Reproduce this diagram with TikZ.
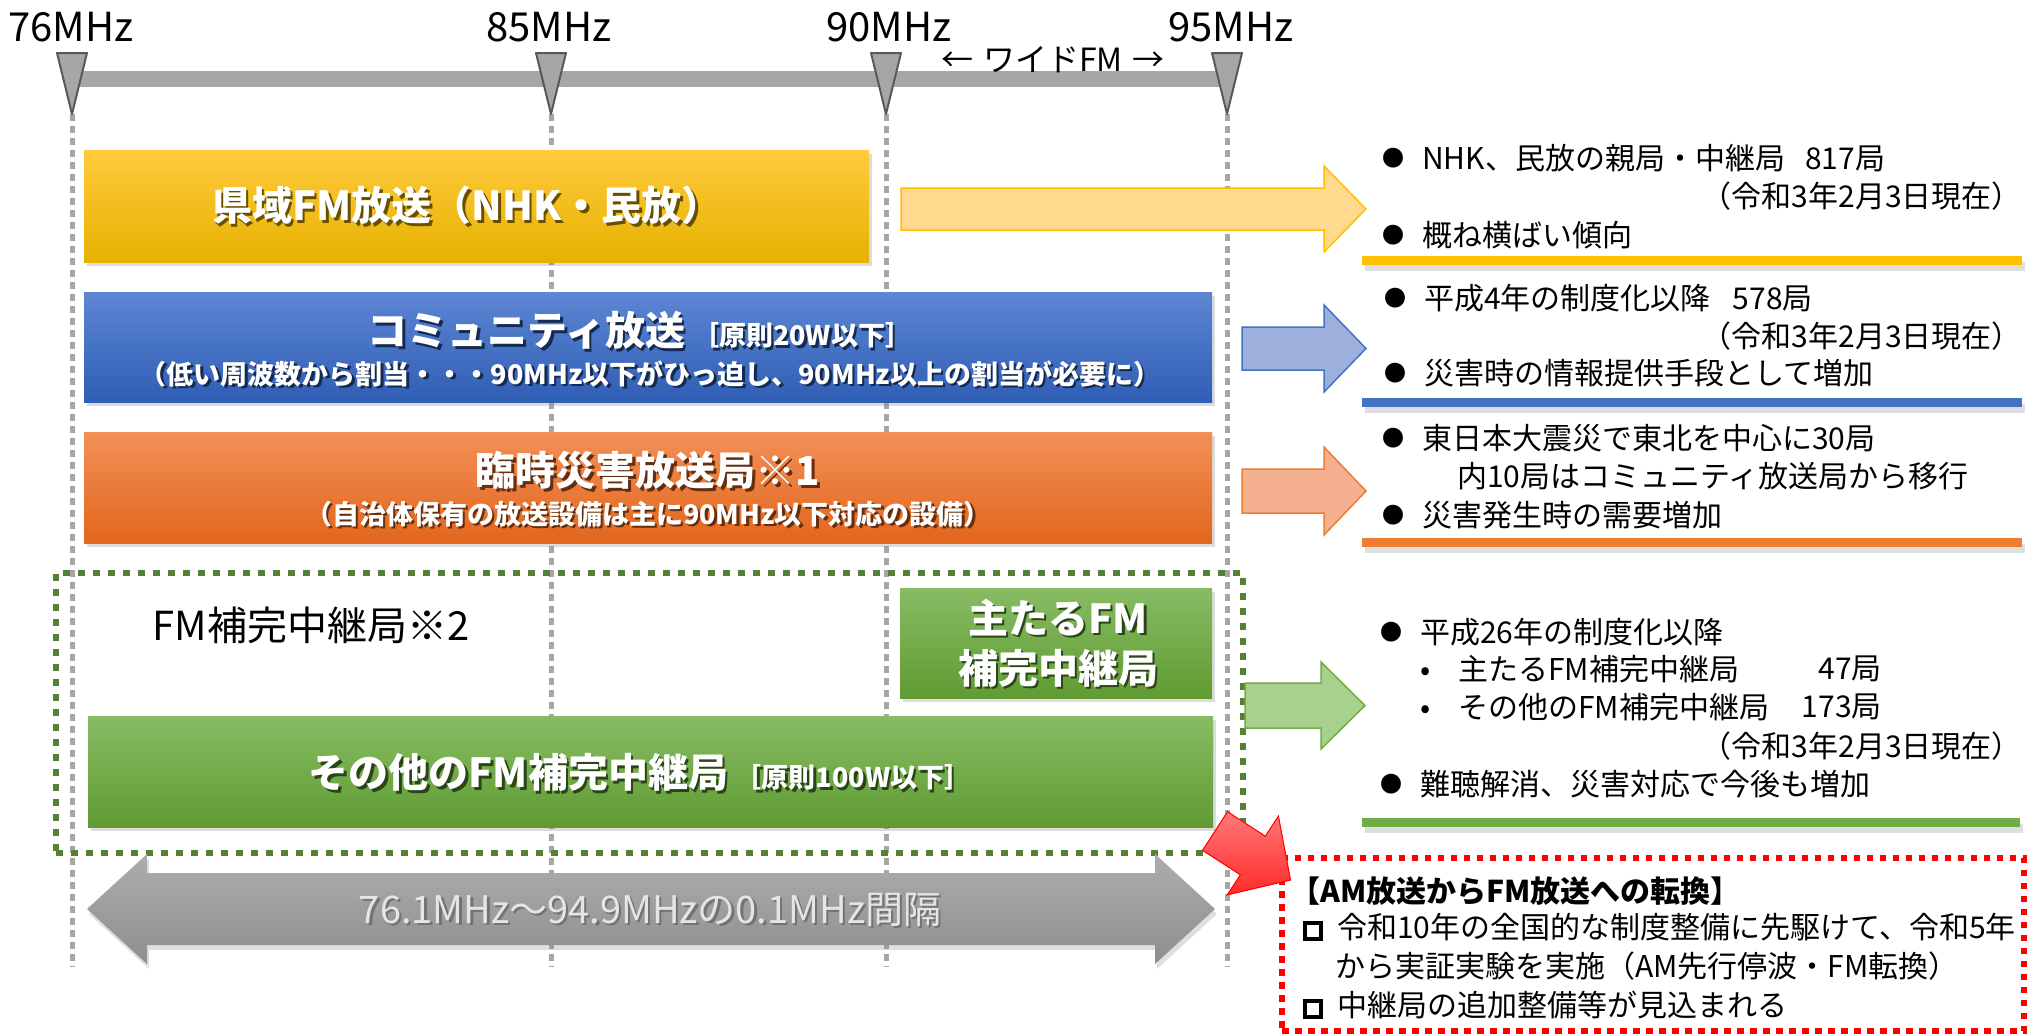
\documentclass[tikz,border=0pt]{standalone}
\usepackage{fontspec}
\setmainfont{Noto Sans CJK JP}
\usetikzlibrary{shadows}
\definecolor{ylT}{HTML}{FFCB3D}\definecolor{ylB}{HTML}{E6B100}
\definecolor{blT}{HTML}{5D86D3}\definecolor{blB}{HTML}{2F5EB5}
\definecolor{orT}{HTML}{F29058}\definecolor{orB}{HTML}{E2661C}
\definecolor{grT}{HTML}{88BC64}\definecolor{grB}{HTML}{5F9B32}
\definecolor{gaT}{HTML}{ADADAD}\definecolor{gaB}{HTML}{8E8E8E}
\definecolor{yaF}{HTML}{FFD98D}\definecolor{yaE}{HTML}{FFC000}
\definecolor{baF}{HTML}{9DB0DD}\definecolor{baE}{HTML}{4472C4}
\definecolor{oaF}{HTML}{F5B08F}\definecolor{oaE}{HTML}{ED7D31}
\definecolor{gaF}{HTML}{A9D18E}\definecolor{gaE}{HTML}{70AD47}
\definecolor{gdot}{HTML}{548235}
\definecolor{lineg}{HTML}{A6A6A6}
\definecolor{redL}{HTML}{FF7878}\definecolor{redD}{HTML}{FF2A2A}
\newcommand\fsz[1]{\fontsize{#1}{#1}\selectfont}
\newcommand\shtxt[2]{\makebox[0pt][l]{\kern2.5pt\raisebox{-2.5pt}{\textcolor{#1}{#2}}}#2}
\newcommand\bul{\makebox[40pt][l]{\raisebox{3pt}{\fsz{22}●}}}
\newcommand\sbul{\makebox[38pt][l]{•}}
\newcommand\sqb{\raisebox{1pt}{\setlength\fboxrule{4pt}\setlength\fboxsep{0pt}\fbox{\rule{0pt}{12pt}\hspace{12pt}}}}
\begin{document}
\begin{tikzpicture}[x=1pt,y=-1pt,
  boxsh/.style={drop shadow={opacity=0.28,shadow xshift=3pt,shadow yshift=-4pt}},
  colbox/.style={rectangle,inner sep=0pt,boxsh},
  lbl/.style={inner sep=0pt,font=\fsz{40}},
  wt/.style={inner sep=0pt,text=white,font=\bfseries\fsz{40}},
  wsub/.style={inner sep=0pt,text=white,font=\bfseries\fsz{27}},
  rt/.style={inner sep=0pt,anchor=west,font=\fsz{30}},
  rte/.style={inner sep=0pt,anchor=east,font=\fsz{30}},
  vdash/.style={draw=lineg,line width=5pt,dash pattern=on 6.5pt off 5.5pt},
  tri/.style={fill=lineg,draw=black!65,line width=2pt,line join=round},
  barr/.style={fill=lineg},
  rarr/.style={line width=1.5pt,line join=miter},
  uline/.style={drop shadow={opacity=0.25,shadow xshift=3pt,shadow yshift=-6pt}},
]
\useasboundingbox (0,0) rectangle (2033,1034);

% ---- frequency scale ----
\foreach \n/\x in {76/72,85/551,90/886,95/1227}{
  \coordinate (t\n) at (\x,114);
  \coordinate (b\n) at (\x,967);
  \draw[vdash] (t\n) -- (b\n);
}
\fill[barr] (72,71) rectangle (1227,87);
\foreach \n/\x in {76/72,85/551,90/886,95/1227}{
  \filldraw[tri] (\x-15,53) -- (\x+15,53) -- (t\n) -- cycle;
}
\node[lbl] (l76) at (71,27) {76MHz};
\node[lbl] (l85) at (549,27) {85MHz};
\node[lbl] (l90) at (889,27) {90MHz};
\node[lbl] (l95) at (1231,27) {95MHz};
\node[inner sep=0pt,font=\fsz{32}] (wide) at (1053,60) {←\hspace{10pt}ワイドFM\hspace{10pt}→};

% ---- bands ----
\node[colbox,top color=ylT,bottom color=ylB,minimum width=785pt,minimum height=112pt] (ken) at (476.5,206) {};
\node[wt] (kent) at (467,207) {\shtxt{ylB!45!black}{県域FM放送（NHK・民放）}};

\node[colbox,top color=blT,bottom color=blB,minimum width=1128pt,minimum height=110pt] (com) at (648,347) {};
\node[wt] (comt) at (640,332) {\shtxt{blB!45!black}{コミュニティ放送\,{\fsz{27}［原則20W以下］}}};
\node[wsub] (comsub) at (650,375) {\shtxt{blB!45!black}{（低い周波数から割当・・・90MHz以下がひっ迫し、90MHz以上の割当が必要に）}};

\node[colbox,top color=orT,bottom color=orB,minimum width=1128pt,minimum height=111pt] (rin) at (648,487.5) {};
\node[wt] (rint) at (648,472) {\shtxt{orB!45!black}{臨時災害放送局※1}};
\node[wsub] (rinsub) at (648,515) {\shtxt{orB!45!black}{（自治体保有の放送設備は主に90MHz以下対応の設備）}};

\node[draw=gdot,line width=6.5pt,dash pattern=on 7pt off 8pt,inner sep=0pt,minimum width=1187pt,minimum height=280pt] (hokan) at (649.5,713) {};
\node[lbl] (hokant) at (311,625) {FM補完中継局※2};

\node[colbox,top color=grT,bottom color=grB,minimum width=312pt,minimum height=110pt] (omo) at (1056,643) {};
\node[wt,align=center] (omot) at (1058,644) {\shtxt{grB!45!black}{主たるFM}\\[10pt]\shtxt{grB!45!black}{補完中継局}};

\node[colbox,top color=grT,bottom color=grB,minimum width=1125pt,minimum height=111pt] (son) at (650.5,771.5) {};
\node[wt] (sont) at (640,774) {\shtxt{grB!45!black}{その他のFM補完中継局\,{\fsz{27}［原則100W以下］}}};

% ---- range double arrow ----
\path[top color=gaT,bottom color=gaB,drop shadow={opacity=0.25,shadow xshift=2pt,shadow yshift=-5pt}]
  (87,909) -- (147,854) -- (147,873) -- (1155,873) -- (1155,854) -- (1215,909)
  -- (1155,964) -- (1155,945) -- (147,945) -- (147,964) -- cycle;
\node[inner sep=0pt,font=\fsz{38},text=black!10] (range) at (650,911) {\shtxt{black!55}{76.1MHz～94.9MHzの0.1MHz間隔}};

% ---- right arrows ----
\filldraw[rarr,fill=yaF,draw=yaE] (901,188) -- (1324,188) -- (1324,166) -- (1366,209) -- (1324,252) -- (1324,230) -- (901,230) -- cycle;
\filldraw[rarr,fill=baF,draw=baE] (1242,327) -- (1324,327) -- (1324,305) -- (1366,348.5) -- (1324,392) -- (1324,370) -- (1242,370) -- cycle;
\filldraw[rarr,fill=oaF,draw=oaE] (1242,469) -- (1324,469) -- (1324,447) -- (1366,491) -- (1324,535) -- (1324,513) -- (1242,513) -- cycle;
\filldraw[rarr,fill=gaF,draw=gaE] (1245,683) -- (1321,683) -- (1321,662) -- (1365,705.5) -- (1321,749) -- (1321,728) -- (1245,728) -- cycle;

% ---- right texts ----
\node[rt] (r1a) at (1382,158) {\bul NHK、民放の親局・中継局\hspace{20pt}817局};
\node[rte] (r1b) at (2022,196) {（令和3年2月3日現在）};
\node[rt] (r1c) at (1382,235) {\bul 概ね横ばい傾向};
\fill[yaE,uline] (1362,256) rectangle (2022,265);

\node[rt] (r2a) at (1384,298) {\bul 平成4年の制度化以降\hspace{22pt}578局};
\node[rte] (r2b) at (2022,336) {（令和3年2月3日現在）};
\node[rt] (r2c) at (1384,373) {\bul 災害時の情報提供手段として増加};
\fill[baE,uline] (1362,398) rectangle (2022,407);

\node[rt] (r3a) at (1382,438) {\bul 東日本大震災で東北を中心に30局};
\node[rt] (r3b) at (1457,476) {内10局はコミュニティ放送局から移行};
\node[rt] (r3c) at (1382,515) {\bul 災害発生時の需要増加};
\fill[oaE,uline] (1362,538) rectangle (2022,547);

\node[rt] (r4a) at (1380,632) {\bul 平成26年の制度化以降};
\node[rt] (r4b) at (1420,669) {\sbul 主たるFM補完中継局};
\node[rte] (r4bn) at (1882,669) {47局};
\node[rt] (r4c) at (1420,707) {\sbul その他のFM補完中継局};
\node[rte] (r4cn) at (1882,707) {173局};
\node[rte] (r4d) at (2022,746) {（令和3年2月3日現在）};
\node[rt] (r4e) at (1380,784) {\bul 難聴解消、災害対応で今後も増加};
\fill[gaE,uline] (1362,818) rectangle (2020,827);

% ---- AM -> FM ----
\node[draw=red,line width=5.5pt,dash pattern=on 6.5pt off 6.5pt,inner sep=0pt,minimum width=742pt,minimum height=173pt] (amfm) at (1653,944.5) {};
\filldraw[top color=redL,bottom color=redD,draw=red,line width=1pt,line join=miter]
  (1227.5,811.7) -- (1265.3,836.2) -- (1278.4,816.1) -- (1290.5,880) -- (1227.2,894.9) -- (1240.3,874.8) -- (1202.5,850.3) -- cycle;
\node[rt,font=\bfseries\fsz{30}] (amt) at (1290,891) {【AM放送からFM放送への転換】};
\node[rt] (am1) at (1303,927) {\sqb\hspace{14pt}令和10年の全国的な制度整備に先駆けて、令和5年};
\node[rt] (am2) at (1335,966) {から実証実験を実施（AM先行停波・FM転換）};
\node[rt] (am3) at (1303,1005) {\sqb\hspace{14pt}中継局の追加整備等が見込まれる};
\end{tikzpicture}
\end{document}
